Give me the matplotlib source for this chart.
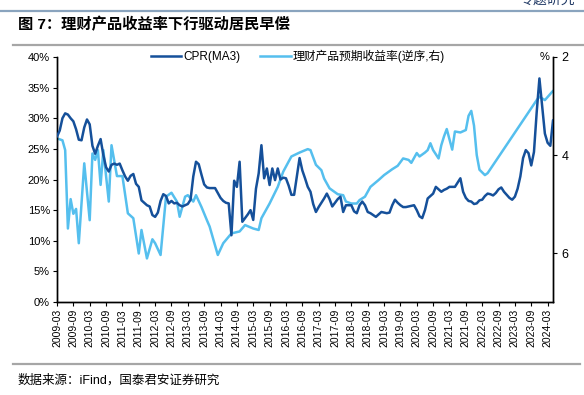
import numpy as np
import matplotlib.pyplot as plt
from matplotlib.lines import Line2D

plt.rcParams['font.family'] = ['Liberation Sans', 'Noto Sans CJK SC', 'DejaVu Sans']

# x-axis tick labels (every 6 months from 2009-03)
tick_labels = [
    "2009-03", "2009-09", "2010-03", "2010-09", "2011-03", "2011-09",
    "2012-03", "2012-09", "2013-03", "2013-09", "2014-03", "2014-09",
    "2015-03", "2015-09", "2016-03", "2016-09", "2017-03", "2017-09",
    "2018-03", "2018-09", "2019-03", "2019-09", "2020-03", "2020-09",
    "2021-03", "2021-09", "2022-03", "2022-09", "2023-03", "2023-09",
    "2024-03",
]

# CPR (MA3), %, monthly from 2009-03 to 2024-05
cpr = [
    27.0, 28.0, 30.0, 30.8, 30.6, 30.0, 29.5, 28.2, 26.5, 26.4,
    28.5, 29.8, 29.0, 25.5, 24.2, 25.5, 26.6, 24.0, 22.0, 21.3,
    22.4, 22.6, 22.4, 22.6, 21.5, 20.5, 19.8, 20.6, 20.9, 19.3,
    18.8, 16.6, 16.2, 15.8, 15.6, 14.2, 13.9, 14.6, 16.5, 17.6,
    17.3, 16.1, 16.5, 16.1, 16.2, 15.8, 15.6, 15.8, 16.0, 16.7,
    20.5, 22.9, 22.5, 20.8, 19.2, 18.7, 18.6, 18.6, 18.6, 17.8,
    17.0, 16.5, 16.2, 16.1, 10.9, 19.8, 18.8, 22.9, 13.1, 13.7,
    14.3, 15.0, 13.4, 18.5, 21.0, 25.6, 20.2, 21.8, 19.1, 21.8,
    19.9, 21.8, 20.0, 20.3, 20.2, 19.0, 17.5, 17.5, 20.5, 23.5,
    21.5, 20.2, 18.8, 18.0, 16.0, 14.7, 15.5, 16.2, 16.9, 17.7,
    16.8, 15.6, 16.2, 16.8, 17.2, 14.7, 15.8, 15.8, 15.8, 14.8,
    14.5, 15.8, 16.4, 15.8, 14.7, 14.5, 14.2, 13.9, 14.3, 14.7,
    14.6, 14.5, 14.6, 15.8, 16.7, 16.2, 15.8, 15.5, 15.5, 15.6,
    15.7, 15.8, 15.0, 14.0, 13.7, 15.0, 16.9, 17.3, 17.7, 18.8,
    18.4, 18.0, 18.3, 18.5, 18.8, 18.8, 18.8, 19.5, 20.2, 18.0,
    17.0, 16.5, 16.4, 16.0, 16.1, 16.6, 16.7, 17.3, 17.7, 17.6,
    17.4, 17.8, 18.4, 18.7, 18.0, 17.5, 17.0, 16.7, 17.2, 18.5,
    20.5, 23.5, 24.8, 24.3, 22.3, 24.5, 31.0, 36.5, 32.0, 27.5,
    26.0, 25.5, 29.7,
]

# wealth-product expected yield, % (right axis, reversed); months since 2009-03
wmp_month = [
    0, 2, 3, 4, 5, 6, 7, 8, 10, 12, 13, 14, 15, 16, 17, 19, 20, 22, 24,
    26, 28, 30, 31, 33, 35, 36, 38, 40, 42, 44, 45, 47, 48, 50, 51, 53,
    55, 56, 59, 61, 64, 67, 69, 72, 74, 75, 78, 81, 83, 86, 89, 92, 93,
    94, 95, 97, 98, 100, 103, 105, 106, 108, 110, 111, 113, 115, 118,
    120, 123, 125, 127, 129, 130, 132, 133, 135, 136, 137, 138, 140,
    141, 142, 143, 145, 146, 148, 150, 151, 152, 153, 154, 155, 157,
    158, 176, 177, 179, 182,
]
wmp_yield = [
    3.66, 3.70, 3.90, 5.50, 4.90, 5.20, 5.10, 5.80, 4.17, 5.33, 3.97,
    4.10, 3.90, 4.61, 3.90, 4.95, 3.80, 4.43, 4.43, 5.19, 5.29, 6.01,
    5.53, 6.11, 5.72, 5.80, 6.04, 4.85, 4.77, 4.95, 5.26, 4.85, 4.82,
    4.95, 4.82, 5.06, 5.33, 5.46, 6.04, 5.80, 5.60, 5.56, 5.43, 5.50,
    5.53, 5.29, 4.99, 4.65, 4.34, 4.03, 3.95, 3.88, 3.90, 4.05, 4.20,
    4.31, 4.48, 4.68, 4.80, 4.82, 4.95, 4.99, 4.99, 4.92, 4.85, 4.65,
    4.51, 4.41, 4.29, 4.22, 4.07, 4.10, 4.16, 3.96, 4.03, 3.95, 3.90,
    3.76, 3.90, 4.07, 3.80, 3.62, 3.47, 3.89, 3.52, 3.54, 3.49, 3.20,
    3.10, 3.40, 4.00, 4.30, 4.41, 4.37, 2.88, 2.81, 2.88, 2.69,
]

dark = "#15509A"
light = "#55BFEE"

fig = plt.figure(figsize=(5.84, 3.95), dpi=100)
ax = fig.add_axes([0.0976, 0.2354, 0.8494, 0.6203])
ax2 = ax.twinx()

ax2.plot(wmp_month, wmp_yield, color=light, lw=1.8, solid_capstyle="round")
ax.plot(np.arange(len(cpr)), cpr, color=dark, lw=1.8, solid_capstyle="round", zorder=3)
ax.set_zorder(ax2.get_zorder() + 1)
ax.patch.set_visible(False)

ax.set_xlim(0, len(cpr) - 1)
ax.set_ylim(0, 40)
ax.set_yticks(range(0, 41, 5))
ax.set_yticklabels([f"{v}%" for v in range(0, 41, 5)])
ax.set_xticks(range(0, 6 * len(tick_labels), 6))
ax.set_xticklabels(tick_labels, rotation=90)

ax2.set_ylim(7, 2)
ax2.set_yticks([2, 4, 6])

for a in (ax, ax2):
    a.spines["top"].set_visible(False)
    for s in a.spines.values():
        s.set_linewidth(1.0)
ax.tick_params(axis="y", labelsize=8, length=3, width=0.8, pad=2)
ax.tick_params(axis="x", labelsize=7.5, length=3, width=0.8, pad=2)
ax2.tick_params(axis="y", labelsize=9, length=3, width=0.8, pad=3)

fig.text(0.932, 0.855, "%", fontsize=8, ha="center", va="center")

handles = [Line2D([], [], color=dark, lw=1.8), Line2D([], [], color=light, lw=1.8)]
fig.legend(handles, ["CPR(MA3)", "理财产品预期收益率(逆序,右)"], loc="center left",
           bbox_to_anchor=(0.24, 0.858), ncol=2, frameon=False, fontsize=8.5,
           handlelength=2.6, handletextpad=0.2, columnspacing=1.6)

# header / footer decorations
fig.text(0.985, 1.0, "专题研究", fontsize=10, color="#1F3864", ha="right", va="center")
fig.add_artist(Line2D([0.0, 1.0], [0.972, 0.972], color="#8AA4BE", lw=1.6))
fig.text(0.03, 0.937, "图 7：理财产品收益率下行驱动居民早偿", fontsize=11,
         fontweight="bold", ha="left", va="center")
fig.add_artist(Line2D([0.022, 1.0], [0.885, 0.885], color="#A6A6A6", lw=1.6))
fig.add_artist(Line2D([0.022, 0.993], [0.079, 0.079], color="#A6A6A6", lw=1.6))
fig.text(0.03, 0.038, "数据来源：iFind，国泰君安证券研究", fontsize=9,
         ha="left", va="center")

fig.savefig("out.png", dpi=100)
